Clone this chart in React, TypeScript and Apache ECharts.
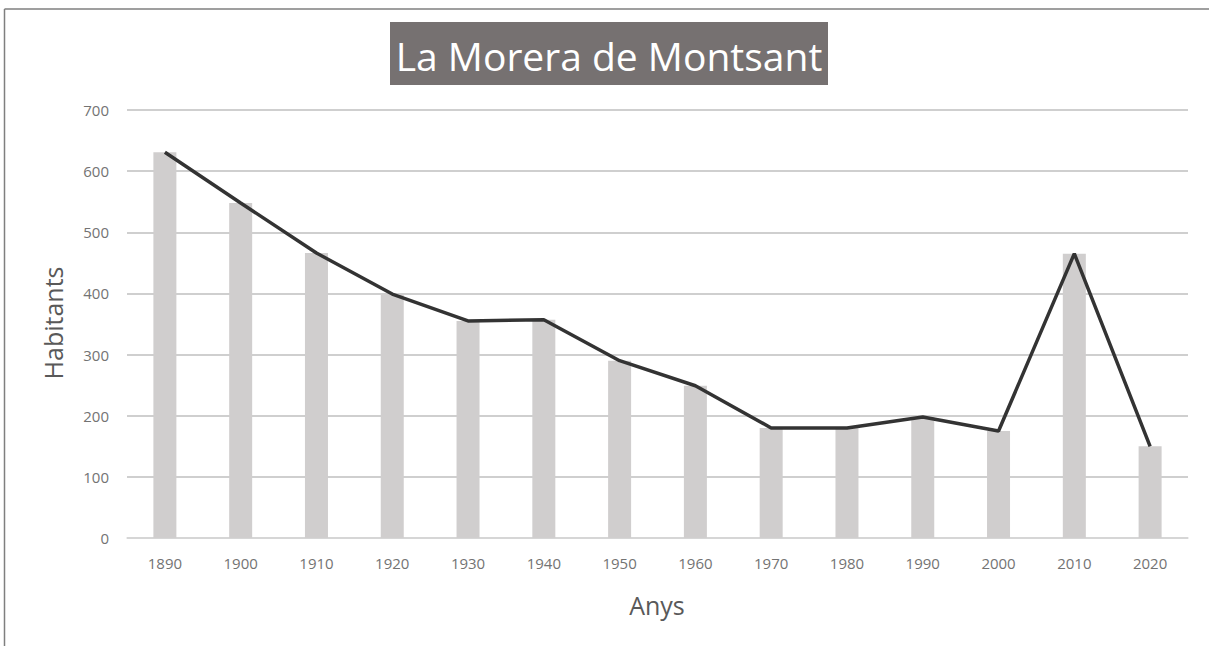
import React, { useEffect, useRef } from "react";
import * as echarts from "echarts";

const categories = ["1890", "1900", "1910", "1920", "1930", "1940", "1950", "1960", "1970", "1980", "1990", "2000", "2010", "2020"];
const barValues = [631, 548, 466, 399, 355, 357, 290, 249, 180, 180, 198, 175, 465, 150];
const lineValues = [631, 548, 466, 399, 355, 357, 290, 249, 180, 180, 198, 175, 465, 150];
const titleText = "La Morera de Montsant";
const yAxisName = "Habitants";
const xAxisName = "Anys";

export default function App() {
  const ref = useRef<HTMLDivElement>(null);
  useEffect(() => {
    if (!ref.current) return;
    const chart = echarts.init(ref.current, null, { renderer: "svg" });
    const font = "'Open Sans', 'Noto Sans', sans-serif";
    chart.setOption({
      animation: false,
      backgroundColor: "#ffffff",
      textStyle: { fontFamily: font },
      grid: { left: 127, right: 21, top: 110, bottom: 108, containLabel: false },
      xAxis: {
        type: "category",
        data: categories,
        axisLine: { show: true, lineStyle: { color: "#d9d9d9", width: 1.5 } },
        axisTick: { show: false },
        axisLabel: { color: "#737373", fontSize: 15, margin: 17, fontFamily: font },
        splitLine: { show: false },
      },
      yAxis: {
        type: "value",
        min: 0,
        max: 700,
        interval: 100,
        axisLine: { show: false },
        axisTick: { show: false },
        axisLabel: { color: "#737373", fontSize: 15, margin: 18, fontFamily: font },
        splitLine: { show: true, lineStyle: { color: "#bfbfbf", width: 1.5 } },
      },
      series: [
        {
          type: "bar",
          data: barValues,
          barWidth: 23,
          itemStyle: { color: "#d0cece" },
          z: 1,
        },
        {
          type: "line",
          data: lineValues,
          symbol: "none",
          lineStyle: { color: "#333333", width: 3.5 },
          z: 3,
        },
      ],
      graphic: [
        {
          type: "line",
          shape: { x1: 4.5, y1: 9, x2: 1209, y2: 9 },
          style: { stroke: "#7f7f7f", lineWidth: 1.5 },
        },
        {
          type: "line",
          shape: { x1: 4.5, y1: 9, x2: 4.5, y2: 646 },
          style: { stroke: "#7f7f7f", lineWidth: 1.5 },
        },
        {
          type: "rect",
          shape: { x: 390, y: 22, width: 438, height: 63 },
          style: { fill: "#767171" },
        },
        {
          type: "text",
          x: 609,
          y: 55,
          style: {
            text: titleText,
            fill: "#ffffff",
            fontSize: 39,
            fontFamily: font,
            align: "center",
            verticalAlign: "middle",
          },
        },
        {
          type: "text",
          x: 53,
          y: 323,
          rotation: Math.PI / 2,
          style: {
            text: yAxisName,
            fill: "#595959",
            fontSize: 25,
            fontFamily: font,
            align: "center",
            verticalAlign: "middle",
          },
        },
        {
          type: "text",
          x: 657,
          y: 605,
          style: {
            text: xAxisName,
            fill: "#595959",
            fontSize: 25,
            fontFamily: font,
            align: "center",
            verticalAlign: "middle",
          },
        },
      ],
    });
    return () => chart.dispose();
  }, []);
  return (
    <div
      ref={ref}
      style={{ position: "fixed", left: 0, top: 0, width: 1209, height: 646 }}
    />
  );
}
